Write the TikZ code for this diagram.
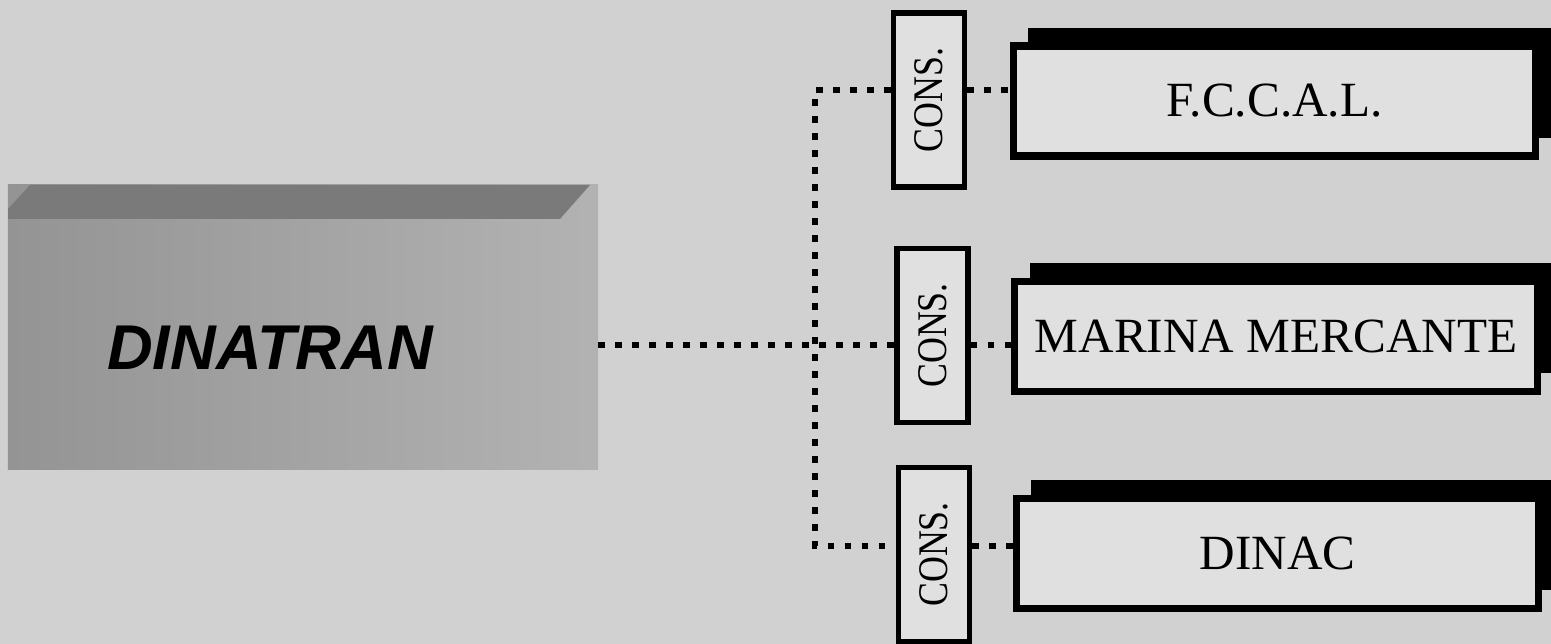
\documentclass[tikz,border=0pt]{standalone}
\usepackage{fontspec}
\setmainfont{Liberation Serif}
\newfontfamily\headfont{Liberation Sans}
\usepackage{tikz}
\usetikzlibrary{positioning, shadows}

\begin{document}
\begin{tikzpicture}[
    every node/.style={font=\fontsize{28}{30}\selectfont},
    org/.style={rectangle, draw, line width=4pt, minimum width=10.45cm, minimum height=2.2cm, fill=black!12, inner sep=0pt,
        drop shadow={shadow xshift=0.3cm, shadow yshift=0.36cm, fill=black, opacity=1}},
    cons/.style={rectangle, draw, line width=3.4pt, minimum width=1.42cm, minimum height=3.48cm, fill=black!12, inner sep=0pt,
        font=\fontsize{24}{26}\selectfont},
    head/.style={rectangle, minimum width=11.8cm, minimum height=5.7cm, left color=black!42, right color=black!30},
    link/.style={line width=0.13cm, dash pattern=on 0.13cm off 0.21cm, black},
]
    \fill[black!18] (0,0) rectangle (31.02,12.88);
    \useasboundingbox (0,0) rectangle (31.02,12.88);

    % main body
    \node[head] (dinatran) at (6.06,6.33) {};
    \fill[black!52] (0.16,8.7) -- (0.6,9.18) -- (11.8,9.18) -- (11.2,8.5) -- (0.16,8.5) -- cycle;
    \node[font=\headfont\bfseries\itshape\fontsize{36}{38}\selectfont] (dinatranlbl)
        at ([xshift=-0.66cm, yshift=-0.4cm]dinatran.center) {DINATRAN};

    % consultation boxes
    \node[cons] (cons1) at (18.58,10.88) {\rotatebox{90}{\scalebox{0.85}[1]{CONS.}}};
    \node[cons] (cons2) at (18.65,6.17) {\rotatebox{90}{\scalebox{0.85}[1]{CONS.}}};
    \node[cons] (cons3) at (18.68,1.79) {\rotatebox{90}{\scalebox{0.85}[1]{CONS.}}};

    % organisations
    \node[org] (fccal) at (25.49,10.86) {F.C.C.A.L.};
    \node[org] (marina) at (25.52,6.15) {MARINA MERCANTE};
    \node[org] (dinac) at (25.55,1.81) {DINAC};

    \coordinate (top) at (16.3,11.08);
    \coordinate (hub) at (16.3,5.98);
    \coordinate (bot) at (16.3,1.96);

    \draw[link] (dinatran.east |- hub) -- (cons2.west |- hub);
    \draw[link] (cons1.west |- top) -| (bot) -- (cons3.west |- bot);
    \draw[link] (cons1.east |- top) -- (fccal.west |- top);
    \draw[link] (cons2.east |- hub) -- (marina.west |- hub);
    \draw[link] (cons3.east |- bot) -- (dinac.west |- bot);
\end{tikzpicture}
\end{document}
